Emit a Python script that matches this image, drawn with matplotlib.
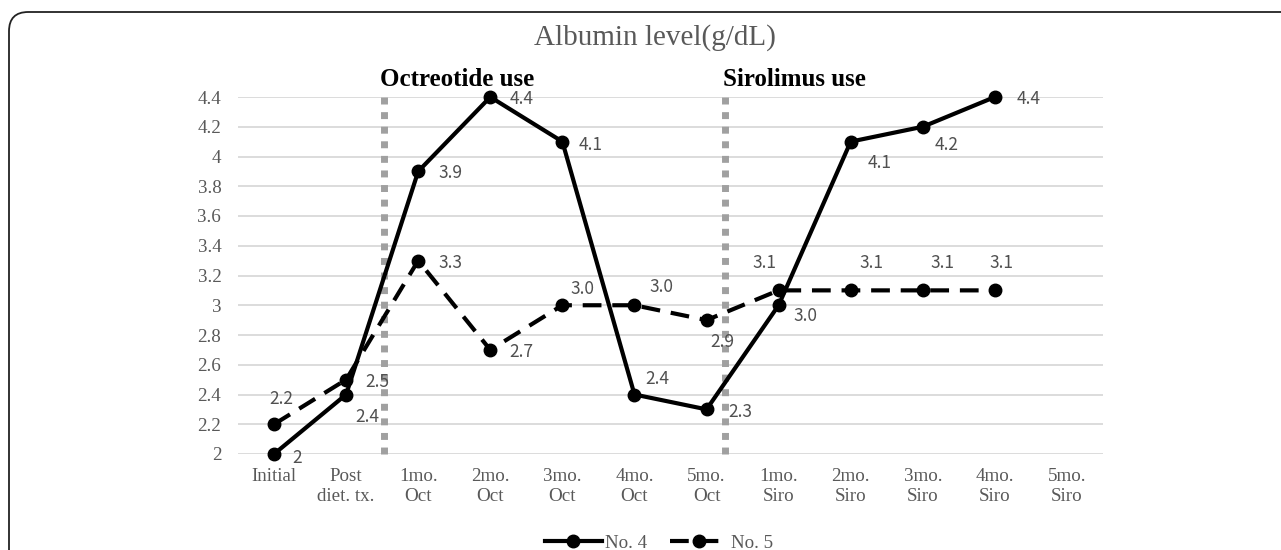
import matplotlib
matplotlib.use("Agg")
import matplotlib.pyplot as plt
from matplotlib.patches import FancyBboxPatch
import numpy as np

categories = ["Initial", "Post\ndiet. tx.", "1mo.\nOct", "2mo.\nOct", "3mo.\nOct", "4mo.\nOct",
              "5mo.\nOct", "1mo.\nSiro", "2mo.\nSiro", "3mo.\nSiro", "4mo.\nSiro", "5mo.\nSiro"]
no4 = [2.0, 2.4, 3.9, 4.4, 4.1, 2.4, 2.3, 3.0, 4.1, 4.2, 4.4, np.nan]
no5 = [2.2, 2.5, 3.3, 2.7, 3.0, 3.0, 2.9, 3.1, 3.1, 3.1, 3.1, np.nan]
no4_labels = ["2", "2.4", "3.9", "4.4", "4.1", "2.4", "2.3", "3.0", "4.1", "4.2", "4.4"]
no5_labels = ["2.2", "2.5", "3.3", "2.7", "3.0", "3.0", "2.9", "3.1", "3.1", "3.1", "3.1"]
yticks = [2, 2.2, 2.4, 2.6, 2.8, 3, 3.2, 3.4, 3.6, 3.8, 4, 4.2, 4.4]
ytick_labels = ["2", "2.2", "2.4", "2.6", "2.8", "3", "3.2", "3.4", "3.6", "3.8", "4", "4.2", "4.4"]
phase_lines = [1.53, 6.26]
phase_names = ["Octreotide use", "Sirolimus use"]

W, H = 1281, 550
fig = plt.figure(figsize=(W / 100, H / 100), dpi=100)
ax = fig.add_axes([238 / W, 1 - 454 / H, (1103 - 238) / W, (454 - 97) / H])

serif = "Liberation Serif"
sans = "Noto Sans CJK KR"
gray_txt = "#595959"

# frame box
box = FancyBboxPatch((9 / W, -0.2), 1.2, 1 - 12 / H + 0.2, boxstyle="round,pad=0,rounding_size=0.015",
                     transform=fig.transFigure, fill=False, edgecolor="#222222", linewidth=1.3,
                     mutation_aspect=W / H)
fig.patches.append(box)

x = np.arange(len(categories))
ax.set_xlim(-0.5, len(categories) - 0.5)
ax.set_ylim(2, 4.4)
ax.set_yticks(yticks)
ax.set_yticklabels(ytick_labels, family=serif, fontsize=13.7, color=gray_txt)
ax.set_xticks(x)
ax.set_xticklabels(categories, family=serif, fontsize=13.7, color=gray_txt, linespacing=1.25)
ax.tick_params(length=0)
ax.tick_params(axis="y", pad=12)
ax.tick_params(axis="x", pad=10)
for s in ax.spines.values():
    s.set_visible(False)
ax.grid(axis="y", color="#d9d9d9", linewidth=1.3)
ax.set_axisbelow(True)

for px in phase_lines:
    ax.plot([px, px], [2, 4.41], color="#a0a0a0", linewidth=5, linestyle=(0, (1.0, 1.1)),
            solid_capstyle="butt", dash_capstyle="butt", zorder=1, clip_on=False)

l4, = ax.plot(x, no4, color="black", linewidth=3, marker="o", markersize=9, label="No. 4", zorder=3,
              clip_on=False)
l5, = ax.plot(x, no5, color="black", linewidth=3, marker="o", markersize=9, label="No. 5",
              linestyle=(0, (4.5, 2.6)), zorder=3, clip_on=False)

# label offsets in pixels (dx, dy) relative to point (dy positive = up)
off4 = [(23, -4), (21, -23), (32, -2), (31, -2), (28, -3), (23, 15), (34, -3), (27, -11), (29, -21), (24, -18), (34, -2)]
off5 = [(7, 25), (31, -2), (32, -2), (31, -2), (20, 16), (27, 18), (16, -22), (-14, 27), (21, 27), (20, 27), (7, 27)]
lbl_kw = dict(fontsize=12.5, color="#505050", family=sans, ha="center", va="center", zorder=4)
for i, (v, t) in enumerate(zip(no4[:len(no4_labels)], no4_labels)):
    ax.annotate(t, (x[i], v), xytext=off4[i], textcoords="offset pixels", **lbl_kw)
for i, (v, t) in enumerate(zip(no5[:len(no5_labels)], no5_labels)):
    ax.annotate(t, (x[i], v), xytext=off5[i], textcoords="offset pixels", **lbl_kw)

# phase names
fig.text(380 / W, 1 - 80 / H, phase_names[0], family=serif, fontweight="bold", fontsize=18,
         ha="left", va="center", color="black")
fig.text(723 / W, 1 - 80 / H, phase_names[1], family=serif, fontweight="bold", fontsize=18,
         ha="left", va="center", color="black")

fig.text(655 / W, 1 - 38 / H, "Albumin level(g/dL)", family=serif, fontsize=21, ha="center",
         va="center", color=gray_txt)

leg = fig.legend(handles=[l4, l5], loc="center", bbox_to_anchor=(659 / W, 1 - 543 / H), ncol=2,
                 frameon=False, prop={"family": serif, "size": 13.7}, handlelength=3.0,
                 columnspacing=1.2, handletextpad=0.2, borderpad=0)
for t in leg.get_texts():
    t.set_color(gray_txt)

fig.savefig("out.png", dpi=100)
